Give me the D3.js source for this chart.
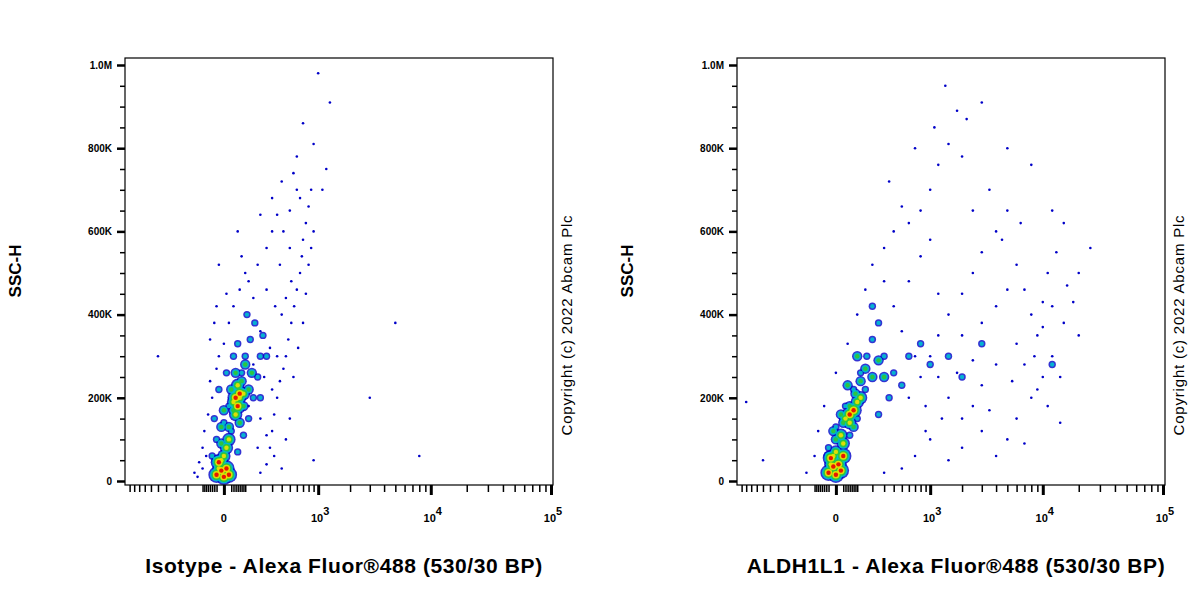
<!DOCTYPE html><html><head><meta charset="utf-8"><script src="https://cdn.jsdelivr.net/npm/d3@7"></script>
<style>body{margin:0;background:#fff}text{font-family:Arial,"Liberation Sans",sans-serif}</style></head><body>
<svg id="c" width="1200" height="600"></svg>
<script>
const yTickLabels=["0","200K","400K","600K","800K","1.0M"];
const xMajor=[0,1e3,1e4,1e5];
const titles=["Isotype - Alexa Fluor®488 (530/30 BP)","ALDH1L1 - Alexa Fluor®488 (530/30 BP)"];
const levelColors=["#0000c8","#00c0d0","#30c830","#f0e000","#e80000"];
// panel 1 points [x, SSC in K], by density level
const iso0=[[-150,20],[-120,45],[-100,80],[-90,120],[-70,160],[-50,200],[-60,240],[-30,270],[-20,300],[0,330],[20,380],[40,420],[70,460],[100,500],[-100,30],[200,20],[250,40],[280,80],[300,120],[320,160],[350,200],[380,240],[420,270],[450,300],[480,340],[520,380],[560,420],[600,460],[650,500],[680,540],[700,580],[750,620],[800,660],[850,700],[500,560],[420,600],[350,640],[300,680],[400,720],[550,740],[600,780],[250,560],[180,520],[120,480],[80,540],[-20,520],[150,440],[250,460],[330,420],[400,400],[200,360],[280,320],[350,300],[150,280],[230,250],[300,220],[120,180],[200,150],[250,110],[-80,60],[-130,10],[180,80],[320,60],[400,30],[450,100],[500,150],[550,250],[620,320],[700,380],[750,450],[800,520],[900,600],[650,680],[850,560],[520,480],[450,440],[380,520],[300,600],[200,640],[500,650],[600,700],[1000,980],[1300,910],[900,810],[700,860],[1200,750],[5000,380],[3000,200],[-500,300],[8000,60],[900,50],[1100,700],[-40,380],[-60,340],[10,450],[60,600],[-30,420]];
const iso1=[[-50,60],[-30,100],[0,140],[20,180],[50,220],[80,260],[100,300],[130,340],[160,380],[60,330],[200,300],[180,250],[150,200],[120,150],[90,110],[60,70],[-20,220],[10,260],[40,300],[220,350],[250,300],[-40,150],[30,120],[200,200],[110,400]];
const iso2=[[-30,50],[-10,90],[20,130],[40,170],[60,200],[80,240],[100,280],[50,260],[120,220],[30,220],[90,180],[0,170],[140,260],[70,140],[-10,130]];
const iso3=[[-20,30],[0,60],[20,100],[50,160],[70,200],[60,230],[90,210],[40,190],[10,80],[-10,50]];
const iso4=[[-30,15],[-10,25],[10,30],[-20,45],[0,10],[20,15],[60,180],[70,210],[50,200]];
// panel 2
const ald0=[[-150,20],[-100,60],[-80,120],[-50,180],[0,260],[50,330],[100,400],[150,460],[200,520],[300,560],[400,600],[600,620],[800,650],[1000,700],[1200,760],[1500,810],[2000,780],[1400,950],[1800,890],[2200,870],[3000,910],[5000,800],[8000,760],[12000,650],[15000,620],[20000,500],[18000,430],[15000,380],[12000,300],[10000,250],[8000,200],[6000,150],[5000,100],[4000,60],[3000,120],[2000,80],[1500,50],[1000,100],[700,60],[500,30],[300,20],[-600,50],[-900,190],[600,200],[800,250],[1000,300],[1200,350],[1500,400],[2000,450],[2500,500],[3000,550],[4000,600],[5000,650],[6000,520],[7000,460],[8000,400],[9000,350],[10000,430],[11000,500],[13000,550],[16000,470],[6000,330],[4000,280],[3000,230],[2500,180],[2000,150],[1500,200],[1200,250],[900,180],[700,300],[500,360],[400,420],[300,480],[600,480],[800,540],[1000,580],[1200,450],[2000,350],[3000,380],[4000,420],[5000,460],[7000,280],[9000,220],[11000,180],[14000,250],[20000,350],[25000,560],[14000,140],[7000,90],[500,660],[350,720],[700,800],[1100,850],[2500,650],[3500,700],[4500,580],[6500,620],[2500,290],[1800,260],[1300,150],[900,120],[3500,170],[5500,240],[8500,300],[10000,370],[12000,420]];
const ald1=[[-30,80],[0,130],[40,180],[80,220],[120,260],[160,300],[200,340],[250,380],[300,300],[400,260],[500,230],[600,300],[350,200],[250,160],[800,330],[1000,280],[200,420],[150,220],[100,150],[60,110],[20,60],[1500,300],[2000,250],[3000,330],[12000,280]];
const ald2=[[-30,60],[0,100],[30,140],[60,180],[90,210],[120,240],[150,270],[200,250],[250,290],[100,300],[50,230],[20,160],[300,250],[-10,120],[80,130]];
const ald3=[[-20,40],[0,70],[20,110],[40,150],[70,170],[100,190],[60,140],[30,90],[-10,60],[120,200]];
const ald4=[[-30,20],[-10,35],[10,40],[0,15],[20,25],[-20,55],[30,60],[80,170],[60,160]];
const panels=[{x0:125,levels:[iso0,iso1,iso2,iso3,iso4]},{x0:737,levels:[ald0,ald1,ald2,ald3,ald4]}];

const svg=d3.select("#c");
const W=428,plotTop=58,bot=485;
panels.forEach((p,i)=>{
  const x=d3.scaleSymlog().constant(200).domain([-1110,1e5]).range([p.x0,p.x0+426]);
  const y=d3.scaleLinear().domain([0,1000]).range([481,65]);
  const g=svg.append("g");
  for(let ring=0;ring<5;ring++){
    for(let l=Math.max(ring,1);l<5;l++){
      g.selectAll(null).data(p.levels[l]).enter().append("circle")
        .attr("cx",d=>x(d[0])).attr("cy",d=>y(d[1]))
        .attr("r",2.2+(l-ring)*1.5).attr("fill",levelColors[ring]).attr("opacity",ring===0?0.8:0.9);
    }
  }
  g.selectAll(null).data(p.levels[0]).enter().append("circle")
    .attr("cx",d=>x(d[0])).attr("cy",d=>y(d[1])).attr("r",1.3).attr("fill",levelColors[0]);
  g.append("rect").attr("x",p.x0).attr("y",plotTop).attr("width",W).attr("height",bot-plotTop).attr("fill","none").attr("stroke","#000").attr("stroke-width",1.2);
  const ya=d3.axisLeft(y).tickValues(d3.range(0,1001,200)).tickFormat((d,k)=>yTickLabels[k]).tickSize(8).tickSizeOuter(0);
  const yg=g.append("g").attr("transform",`translate(${p.x0},0)`).call(ya);
  yg.select(".domain").remove();
  yg.selectAll("line").attr("stroke-width",2.5);
  yg.selectAll("text").attr("font-size",10).attr("font-weight","bold").attr("dx",-2);
  const ym=g.append("g").attr("transform",`translate(${p.x0},0)`).call(d3.axisLeft(y).tickValues(d3.range(0,1001,50).filter(v=>v%200)).tickSize(5).tickFormat(""));
  ym.select(".domain").remove(); ym.selectAll("line").attr("stroke-width",1.5);
  const minor=[];
  for(const e of [1,2,3,4]) for(let m=1;m<10;m++){const v=m*Math.pow(10,e);if(v<30&&m%3)continue;if(v<=1e5&&!xMajor.includes(v))minor.push(v);if(-v>=-1110)minor.push(-v);}
  const xm=g.append("g").attr("transform",`translate(0,${bot})`).call(d3.axisBottom(x).tickValues(minor).tickSize(7).tickFormat(""));
  xm.select(".domain").remove(); xm.selectAll("line").attr("stroke-width",1.5);
  const xa=g.append("g").attr("transform",`translate(0,${bot})`).call(d3.axisBottom(x).tickValues(xMajor).tickSize(10).tickFormat(""));
  xa.select(".domain").remove(); xa.selectAll("line").attr("stroke-width",3);
  xMajor.forEach(v=>{
    const t=g.append("text").attr("x",x(v)+(v?2:0)).attr("y",bot+37).attr("font-size",11).attr("font-weight","bold").attr("text-anchor","middle");
    if(v===0)t.text("0"); else {t.append("tspan").text("10");t.append("tspan").attr("dy",-7).attr("font-size",11).text(Math.round(Math.log10(v)));}
  });
  g.append("text").attr("x",p.x0+W/2+5).attr("y",573).attr("text-anchor","middle").attr("font-size",21).attr("font-weight","bold").attr("letter-spacing",0.6).text(titles[i]);
  g.append("text").attr("transform",`translate(${p.x0-104},271) rotate(-90)`).attr("text-anchor","middle").attr("font-size",17).attr("font-weight","bold").text("SSC-H");
  g.append("text").attr("transform",`translate(${p.x0+W+19},325) rotate(-90)`).attr("text-anchor","middle").attr("font-size",15).attr("letter-spacing",0.8).text("Copyright (c) 2022 Abcam Plc");
});
</script></body></html>
